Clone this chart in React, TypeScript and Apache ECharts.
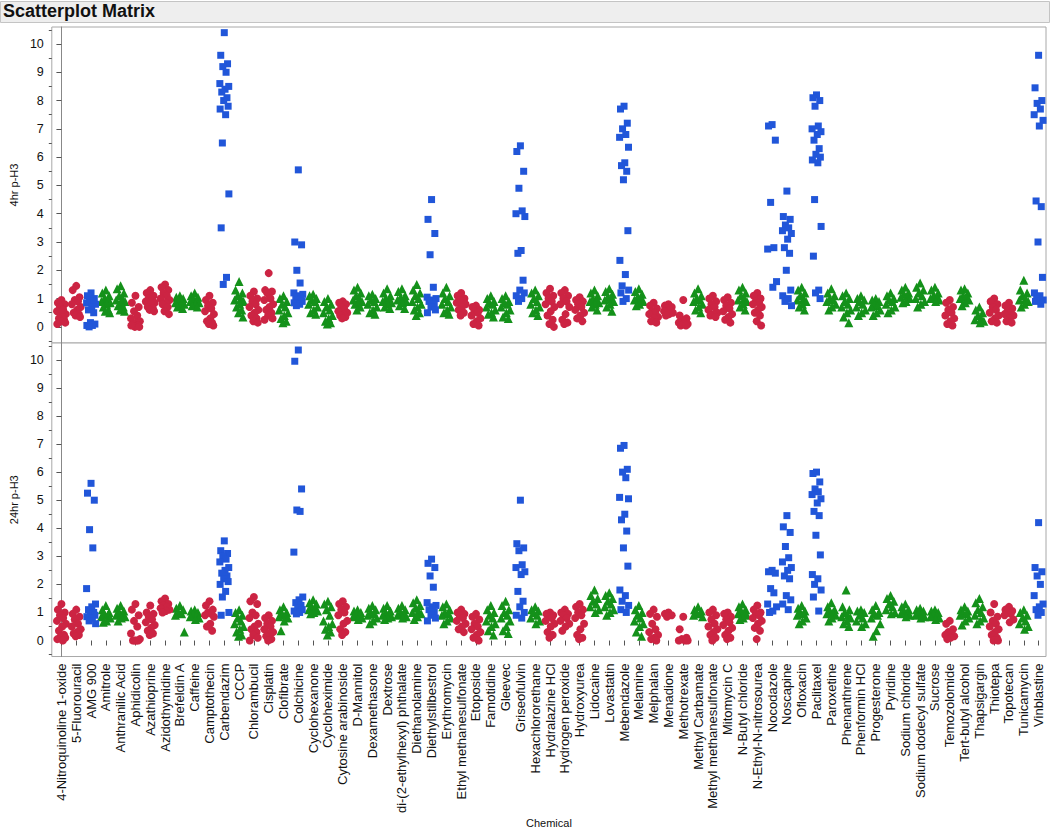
import React, { useEffect, useRef } from "react";
import * as echarts from "echarts";

const CHEMICALS = [
  "4-Nitroquinoline 1-oxide", "5-Fluorouracil", "AMG 900", "Amitrole", "Anthranilic Acid",
  "Aphidicolin", "Azathioprine", "Azidothymidine", "Brefeldin A", "Caffeine",
  "Camptothecin", "Carbendazim", "CCCP", "Chlorambucil", "Cisplatin",
  "Clofibrate", "Colchicine", "Cyclohexanone", "Cycloheximide", "Cytosine arabinoside",
  "D-Mannitol", "Dexamethasone", "Dextrose", "di-(2-ethylhexyl) phthalate", "Diethanolamine",
  "Diethylstilbestrol", "Erythromycin", "Ethyl methanesulfonate", "Etoposide", "Famotidine",
  "Gleevec", "Griseofulvin", "Hexachlororethane", "Hydralazine HCl", "Hydrogen peroxide",
  "Hydroxyurea", "Lidocaine", "Lovastatin", "Mebendazole", "Melamine",
  "Melphalan", "Menadione", "Methotrexate", "Methyl Carbamate", "Methyl methanesulfonate",
  "Mitomycin C", "N-Butyl chloride", "N-Ethyl-N-nitrosourea", "Nocodazole", "Noscapine",
  "Ofloxacin", "Paclitaxel", "Paroxetine", "Phenanthrene", "Phenformin HCl",
  "Progesterone", "Pyridine", "Sodium chloride", "Sodium dodecyl sulfate", "Sucrose",
  "Temozolomide", "Tert-butyl alcohol", "Thapsigargin", "Thiotepa", "Topotecan",
  "Tunicamycin", "Vinblastine",
];

// C = red circle, N = green triangle, A = blue square
const GROUP = [
  "C","C","A","N","N","C","C","C","N","N",
  "C","A","N","C","C","N","A","N","N","C",
  "N","N","N","N","N","A","N","C","C","N",
  "N","A","N","C","C","C","N","N","A","N",
  "C","C","C","N","C","C","N","C","A","A",
  "N","A","N","N","N","N","N","N","N","N",
  "C","N","N","C","C","N","A",
];

const H4 = [
  [0.95,0.85,0.8,0.7,0.6,0.55,0.45,0.4,0.3,0.25,0.2,0.15,0.1,0.6],
  [1.45,1.3,1.05,0.95,0.9,0.8,0.7,0.6,0.5,0.45,0.4,0.35],
  [1.2,1.1,1.0,0.95,0.9,0.85,0.8,0.7,0.6,0.5,0.15,0.1,0.05,0.05,0.0],
  [1.3,1.2,1.1,1.0,0.95,0.9,0.85,0.8,0.7,0.6,0.55,0.5],
  [1.45,1.35,1.2,1.1,1.0,0.95,0.9,0.85,0.75,0.7,0.6,0.55],
  [1.1,0.85,0.7,0.55,0.4,0.3,0.2,0.15,0.1,0.05,0.0,0.0,0.05],
  [1.3,1.2,1.1,1.0,0.95,0.9,0.85,0.8,0.7,0.65,0.6,0.55],
  [1.5,1.4,1.3,1.2,1.1,1.0,0.95,0.85,0.8,0.7,0.55,0.45],
  [1.1,1.05,1.0,0.95,0.9,0.85,0.8,0.75,0.7,0.65],
  [1.2,1.1,1.05,1.0,0.95,0.9,0.85,0.8,0.75,0.7],
  [1.1,0.95,0.85,0.75,0.65,0.55,0.45,0.3,0.2,0.15,0.1,0.05],
  [10.4,9.6,9.3,9.2,9.0,8.6,8.5,8.4,8.3,8.1,8.0,7.8,7.7,7.5,6.5,4.7,3.5,1.75,1.5],
  [1.6,1.3,1.2,1.1,1.0,0.95,0.9,0.8,0.7,0.6,0.5,0.35],
  [1.25,1.1,1.0,0.9,0.8,0.7,0.6,0.5,0.4,0.3,0.2,0.15],
  [1.9,1.3,1.25,1.2,1.0,0.95,0.8,0.7,0.6,0.5,0.4,0.3,0.25],
  [1.1,1.0,0.9,0.8,0.7,0.6,0.5,0.4,0.3,0.2,0.15],
  [5.55,3.0,2.9,2.0,1.55,1.2,1.15,1.1,1.05,1.0,0.95,0.9,0.85,0.8,0.75],
  [1.15,1.1,1.0,0.95,0.9,0.8,0.7,0.6,0.5,0.45],
  [1.0,0.9,0.8,0.7,0.6,0.5,0.4,0.3,0.2,0.15,0.1],
  [0.9,0.85,0.8,0.7,0.6,0.55,0.5,0.45,0.4,0.35,0.3],
  [1.4,1.3,1.2,1.1,1.0,0.95,0.9,0.85,0.8,0.7,0.6],
  [1.15,1.1,1.0,0.95,0.9,0.8,0.7,0.6,0.5,0.45],
  [1.35,1.2,1.1,1.0,0.95,0.9,0.85,0.8,0.7,0.65],
  [1.35,1.25,1.1,1.05,1.0,0.95,0.9,0.85,0.75,0.65],
  [1.5,1.3,1.2,1.1,1.0,0.9,0.8,0.7,0.6,0.5,0.4],
  [4.5,3.8,3.3,2.55,1.4,1.05,1.0,0.95,0.9,0.8,0.7,0.6,0.5],
  [1.4,1.2,1.1,1.0,0.9,0.8,0.7,0.6,0.5,0.45],
  [1.2,1.1,1.0,0.95,0.9,0.85,0.8,0.7,0.6,0.5,0.4],
  [0.75,0.7,0.6,0.55,0.5,0.4,0.3,0.2,0.1,0.05],
  [1.1,1.0,0.9,0.85,0.8,0.7,0.6,0.5,0.45,0.35],
  [1.1,1.0,0.9,0.85,0.8,0.7,0.6,0.5,0.35,0.3],
  [6.4,6.2,5.5,4.9,4.1,4.0,3.9,2.7,2.6,1.65,1.3,1.2,1.1,1.0,0.9],
  [1.3,1.2,1.1,1.0,0.9,0.8,0.7,0.6,0.5,0.4],
  [1.35,1.2,1.1,1.0,0.9,0.8,0.7,0.55,0.4,0.25,0.1,0.0],
  [1.3,1.2,1.1,1.0,0.9,0.8,0.7,0.45,0.25,0.15,0.1],
  [1.05,0.95,0.9,0.8,0.7,0.6,0.5,0.4,0.3,0.2],
  [1.3,1.2,1.1,1.0,0.95,0.9,0.85,0.8,0.7,0.6],
  [1.35,1.25,1.15,1.05,1.0,0.95,0.9,0.8,0.7,0.55],
  [7.8,7.7,7.2,7.0,6.8,6.7,6.35,5.8,5.7,5.5,5.2,3.4,2.35,1.85,1.45,1.3,1.2,1.0,0.9],
  [1.35,1.25,1.15,1.05,1.0,0.95,0.9,0.8,0.75],
  [0.85,0.75,0.65,0.55,0.5,0.45,0.35,0.3,0.2,0.15],
  [0.8,0.75,0.7,0.65,0.6,0.55,0.5,0.45,0.4],
  [0.95,0.4,0.3,0.25,0.2,0.15,0.1,0.1,0.05,0.05],
  [1.35,1.2,1.1,1.0,0.95,0.9,0.8,0.7,0.6,0.5],
  [1.1,1.0,0.9,0.8,0.7,0.6,0.5,0.45,0.4,0.35],
  [1.05,0.95,0.85,0.75,0.65,0.55,0.45,0.35,0.25,0.15],
  [1.4,1.3,1.2,1.1,1.0,0.95,0.9,0.8,0.7,0.6],
  [1.2,1.1,1.0,0.9,0.85,0.8,0.7,0.6,0.5,0.4,0.2,0.05],
  [7.15,7.1,6.6,4.4,2.8,2.75,1.6,1.4],
  [4.8,3.9,3.8,3.6,3.5,3.4,3.3,3.1,2.8,2.6,2.0,1.3,1.1,1.0,0.9,0.75],
  [1.4,1.3,1.2,1.1,1.0,0.95,0.9,0.8,0.7,0.6],
  [8.2,8.1,8.0,7.8,7.1,7.0,6.9,6.8,6.6,6.3,6.1,6.0,5.9,5.8,4.5,3.55,2.5,1.3,1.2,1.0],
  [1.35,1.2,1.1,1.0,0.95,0.9,0.8,0.7,0.6],
  [1.2,1.1,1.0,0.9,0.8,0.7,0.6,0.5,0.35,0.15],
  [1.1,1.0,0.95,0.9,0.8,0.7,0.6,0.5,0.4],
  [1.0,0.95,0.9,0.8,0.75,0.7,0.6,0.5,0.4],
  [1.2,1.1,1.0,0.95,0.9,0.8,0.7,0.6,0.5],
  [1.4,1.3,1.2,1.15,1.1,1.05,1.0,0.9,0.85],
  [1.55,1.4,1.3,1.2,1.1,1.0,0.9,0.8,0.7],
  [1.4,1.3,1.2,1.1,1.05,1.0,0.95,0.9],
  [0.95,0.85,0.7,0.6,0.5,0.4,0.3,0.2,0.1,0.05],
  [1.35,1.3,1.2,1.1,1.05,1.0,0.95,0.85,0.75],
  [0.7,0.6,0.5,0.4,0.3,0.25,0.2,0.15],
  [1.0,0.9,0.8,0.7,0.6,0.5,0.4,0.3,0.2,0.15],
  [0.85,0.75,0.65,0.55,0.5,0.45,0.4,0.3,0.2,0.15],
  [1.65,1.3,1.2,1.1,1.0,0.95,0.9,0.8,0.7],
  [9.6,8.45,8.0,7.9,7.7,7.5,7.3,7.1,4.45,4.25,3.0,1.75,1.2,1.1,1.0,0.95,0.9,0.8],
];

const H24 = [
  [1.3,1.1,1.0,0.9,0.8,0.7,0.6,0.5,0.35,0.2,0.15,0.1,0.05,0.0],
  [1.1,0.95,0.85,0.75,0.6,0.5,0.4,0.3,0.25,0.2,0.15],
  [5.6,5.25,5.0,3.95,3.3,1.85,1.3,1.2,1.1,1.0,0.95,0.9,0.85,0.8,0.7,0.6],
  [1.25,1.1,1.0,0.95,0.9,0.85,0.8,0.7,0.65],
  [1.25,1.15,1.05,1.0,0.95,0.9,0.85,0.8,0.7],
  [1.3,1.1,0.9,0.7,0.5,0.25,0.05,0.0,0.0,0.0,0.0],
  [1.25,1.0,0.95,0.85,0.75,0.65,0.55,0.45,0.35,0.25,0.2],
  [1.5,1.4,1.3,1.25,1.2,1.15,1.1,1.05,1.0],
  [1.25,1.15,1.1,1.0,0.95,0.9,0.3],
  [1.1,1.05,1.0,0.95,0.9,0.85,0.8,0.75],
  [1.4,1.25,1.1,1.0,0.95,0.9,0.85,0.6,0.5,0.35],
  [3.55,3.2,3.1,3.0,2.9,2.8,2.6,2.5,2.4,2.3,2.2,2.1,2.0,1.75,1.55,1.0,0.9],
  [1.1,1.0,0.9,0.8,0.7,0.6,0.5,0.4,0.3,0.2,0.15],
  [1.55,1.4,1.3,1.0,0.9,0.8,0.6,0.5,0.4,0.3,0.2,0.1,0.0],
  [0.9,0.8,0.7,0.6,0.5,0.4,0.3,0.25,0.15,0.05,0.0],
  [1.2,1.1,1.0,0.95,0.9,0.85,0.8,0.7,0.35],
  [10.35,9.95,5.4,4.65,4.6,3.15,1.55,1.45,1.35,1.25,1.15,1.1,1.05,1.0,0.95],
  [1.45,1.35,1.3,1.2,1.15,1.1,1.05,1.0,0.95],
  [1.4,1.3,1.2,1.1,0.9,0.7,0.6,0.5,0.4,0.3,0.2],
  [1.4,1.3,1.2,1.1,1.0,0.9,0.7,0.6,0.4,0.3,0.2],
  [1.1,1.05,1.0,0.95,0.9,0.85,0.8,0.75],
  [1.25,1.15,1.1,1.0,0.95,0.9,0.8,0.7,0.6],
  [1.25,1.15,1.05,1.0,0.95,0.9,0.85,0.8,0.75],
  [1.25,1.15,1.1,1.0,0.95,0.9,0.85,0.8],
  [1.45,1.35,1.25,1.15,1.05,1.0,0.95,0.85,0.75],
  [2.9,2.75,2.6,2.3,1.9,1.35,1.25,1.2,1.1,1.0,0.9,0.8,0.7],
  [1.3,1.2,1.1,1.0,0.95,0.9,0.8,0.7,0.6],
  [1.1,1.0,0.95,0.9,0.8,0.7,0.6,0.5,0.4,0.3],
  [0.95,0.85,0.75,0.6,0.5,0.4,0.3,0.2,0.1,0.0],
  [1.25,1.1,1.0,0.9,0.8,0.7,0.6,0.5,0.35,0.2],
  [1.4,1.25,1.1,1.0,0.9,0.8,0.7,0.5,0.35,0.25],
  [5.0,3.45,3.3,3.2,2.7,2.6,2.45,2.35,1.75,1.4,1.2,1.0,0.9,0.8],
  [1.2,1.1,1.05,1.0,0.9,0.8,0.7,0.6],
  [1.0,0.95,0.9,0.85,0.8,0.7,0.6,0.5,0.3,0.2,0.1],
  [1.1,1.0,0.95,0.9,0.8,0.7,0.6,0.5,0.35],
  [1.3,1.2,1.1,1.0,0.9,0.8,0.6,0.4,0.2,0.1,0.05],
  [1.8,1.6,1.5,1.4,1.3,1.2,1.1,1.0],
  [1.7,1.6,1.5,1.4,1.3,1.2,1.1,1.0,0.9],
  [6.95,6.85,6.1,6.0,5.8,5.1,5.05,4.5,4.3,3.9,3.3,2.65,1.8,1.6,1.4,1.25,1.1,1.0],
  [1.25,1.1,1.0,0.9,0.8,0.7,0.6,0.5,0.3,0.15],
  [1.1,0.95,0.85,0.6,0.4,0.3,0.2,0.1,0.05,0.0],
  [1.0,0.95,0.9,0.85],
  [0.85,0.4,0.1,0.05,0.0,0.0,0.0],
  [1.2,1.1,1.05,1.0,0.95,0.9,0.85],
  [1.1,1.0,0.9,0.75,0.6,0.5,0.4,0.3,0.2,0.1,0.0],
  [1.0,0.95,0.85,0.75,0.65,0.55,0.45,0.35,0.2,0.1,0.05],
  [1.3,1.2,1.1,1.05,1.0,0.95,0.9,0.8,0.75],
  [1.25,1.1,1.0,0.95,0.9,0.8,0.7,0.6,0.45,0.35,0.05],
  [2.5,2.45,2.4,1.85,1.7,1.3,1.2,1.05,1.0],
  [4.45,4.05,3.85,3.35,2.95,2.8,2.6,2.5,2.3,2.2,1.6,1.45,1.3,1.1],
  [1.25,1.15,1.05,1.0,0.95,0.9,0.8,0.7,0.6],
  [6.0,5.95,5.65,5.4,5.3,5.2,5.05,4.9,4.6,4.45,3.75,3.05,2.35,2.2,2.0,1.8,1.55,1.05],
  [1.35,1.2,1.1,1.05,1.0,0.95,0.9,0.8,0.7],
  [1.8,1.2,1.1,1.0,0.9,0.85,0.8,0.7,0.6,0.5],
  [1.1,1.05,1.0,0.9,0.8,0.7,0.6,0.5],
  [1.25,1.1,1.0,0.95,0.9,0.8,0.6,0.35,0.15],
  [1.6,1.5,1.4,1.3,1.2,1.1,1.0,0.95],
  [1.3,1.2,1.1,1.05,1.0,0.95,0.9,0.85],
  [1.15,1.1,1.05,1.0,0.95,0.9,0.85,0.8],
  [1.1,1.05,1.0,0.95,0.9,0.85,0.8,0.75],
  [0.7,0.6,0.4,0.3,0.25,0.2,0.15,0.1,0.05],
  [1.2,1.1,1.05,1.0,0.95,0.9,0.8,0.7,0.55],
  [1.5,1.35,1.2,1.1,1.0,0.9,0.8,0.7,0.6],
  [1.3,1.0,0.85,0.7,0.6,0.5,0.4,0.3,0.2,0.1,0.0,0.0],
  [1.2,1.1,1.05,1.0,0.95,0.9,0.75,0.65],
  [1.1,1.0,0.9,0.8,0.7,0.6,0.5,0.4],
  [4.2,2.6,2.45,2.3,2.0,1.6,1.3,1.2,1.1,1.0,0.9],
];

const Y_MAJOR = [0, 1, 2, 3, 4, 5, 6, 7, 8, 9, 10];
const Y_MINOR = [-0.5, 0.5, 1.5, 2.5, 3.5, 4.5, 5.5, 6.5, 7.5, 8.5, 9.5, 10.5];
const PANEL_NAMES = ["4hr p-H3", "24hr p-H3"];

// horizontal jitter pattern (in category widths) applied within each chemical
const JITTER = [0, -0.24, 0.22, -0.1, 0.12, -0.3, 0.3, 0.05, -0.17, 0.18, -0.04, 0.26, -0.28, 0.09, -0.13, 0.31, -0.21, 0.15, -0.07, 0.24];

const STYLES: Record<string, { symbol: string; size: number; color: string; name: string }> = {
  C: { symbol: "circle", size: 8, color: "#CC2443", name: "Red" },
  N: { symbol: "triangle", size: 9, color: "#14911A", name: "Green" },
  A: { symbol: "rect", size: 7, color: "#2156D9", name: "Blue" },
};

const FONT = 'Arial, "Liberation Sans", Helvetica, sans-serif';

function pointsFor(values: number[][], key: string) {
  const out: number[][] = [];
  values.forEach((vals, i) => {
    if (GROUP[i] !== key) return;
    vals.forEach((v, j) => out.push([i + JITTER[j % JITTER.length], v]));
  });
  return out;
}

export default function App() {
  const ref = useRef<HTMLDivElement>(null);
  useEffect(() => {
    if (!ref.current) return;
    const chart = echarts.init(ref.current, null, { renderer: "svg" });
    const xIdx = CHEMICALS.map((_, i) => i);
    const grids = [
      { left: 46, top: 27, width: 1000, height: 316, show: true, borderColor: "#A8A8A8", borderWidth: 1, backgroundColor: "#fff" },
      { left: 46, top: 343, width: 1000, height: 316, show: true, borderColor: "#A8A8A8", borderWidth: 1, backgroundColor: "#fff" },
    ];
    const xAxes = [0, 1].map((p) => ({
      type: "value",
      gridIndex: p,
      min: -0.65,
      max: 66.5,
      axisLine: { show: false },
      splitLine: { show: false },
      axisTick: p === 1
        ? { show: true, customValues: xIdx, length: 5, lineStyle: { color: "#555" } }
        : { show: false },
      axisLabel: p === 1
        ? {
            show: true,
            customValues: xIdx,
            rotate: 90,
            margin: 7,
            fontSize: 13,
            fontFamily: FONT,
            color: "#111",
            formatter: (v: number) => CHEMICALS[Math.round(v)] ?? "",
          }
        : { show: false },
      name: p === 1 ? "Chemical" : "",
      nameLocation: "middle",
      nameGap: 151,
      nameTextStyle: { fontSize: 11, fontFamily: FONT, color: "#111" },
    }));
    const yAxes: any[] = [];
    [0, 1].forEach((p) => {
      yAxes.push({
        type: "value",
        gridIndex: p,
        position: "left",
        min: -0.57,
        max: 10.6,
        axisLine: { show: true, lineStyle: { color: "#888" } },
        axisTick: { show: true, customValues: Y_MAJOR, length: 5, lineStyle: { color: "#555" } },
        axisLabel: { show: true, customValues: Y_MAJOR, margin: 8, fontSize: 12.5, fontFamily: FONT, color: "#111" },
        splitLine: { show: false },
        name: PANEL_NAMES[p],
        nameLocation: "middle",
        nameGap: 19,
        nameRotate: 90,
        nameTextStyle: { fontSize: 11, fontFamily: FONT, color: "#111" },
      });
      yAxes.push({
        type: "value",
        gridIndex: p,
        position: "left",
        offset: 0,
        min: -0.57,
        max: 10.6,
        axisLine: { show: false },
        axisTick: { show: true, customValues: Y_MINOR, length: 3, lineStyle: { color: "#555" } },
        axisLabel: { show: false },
        splitLine: { show: false },
      });
    });
    const series: any[] = [];
    [H4, H24].forEach((vals, p) => {
      ["N", "C", "A"].forEach((key) => {
        const st = STYLES[key];
        series.push({
          type: "scatter",
          name: st.name,
          xAxisIndex: p,
          yAxisIndex: p * 2,
          symbol: st.symbol,
          symbolSize: st.size,
          itemStyle: { color: st.color, opacity: 1 },
          data: pointsFor(vals, key),
          silent: true,
        });
      });
    });
    chart.setOption({
      animation: false,
      backgroundColor: "#fff",
      textStyle: { fontFamily: FONT },
      grid: grids,
      xAxis: xAxes,
      yAxis: yAxes,
      series,
      graphic: [
        {
          type: "rect",
          left: 0,
          top: 1,
          shape: { x: 0, y: 0, width: 1049, height: 21 },
          style: { fill: "#EEEEEE", stroke: "#C4C4C4", lineWidth: 1 },
          silent: true,
        },
        {
          type: "text",
          left: 3,
          top: 2,
          style: { text: "Scatterplot Matrix", font: `bold 18px ${FONT}`, fill: "#111" },
          silent: true,
        },
      ],
    });
    return () => chart.dispose();
  }, []);
  return (
    <div
      ref={ref}
      style={{ position: "absolute", left: 0, top: 0, width: 1050, height: 829, background: "#fff" }}
    />
  );
}
